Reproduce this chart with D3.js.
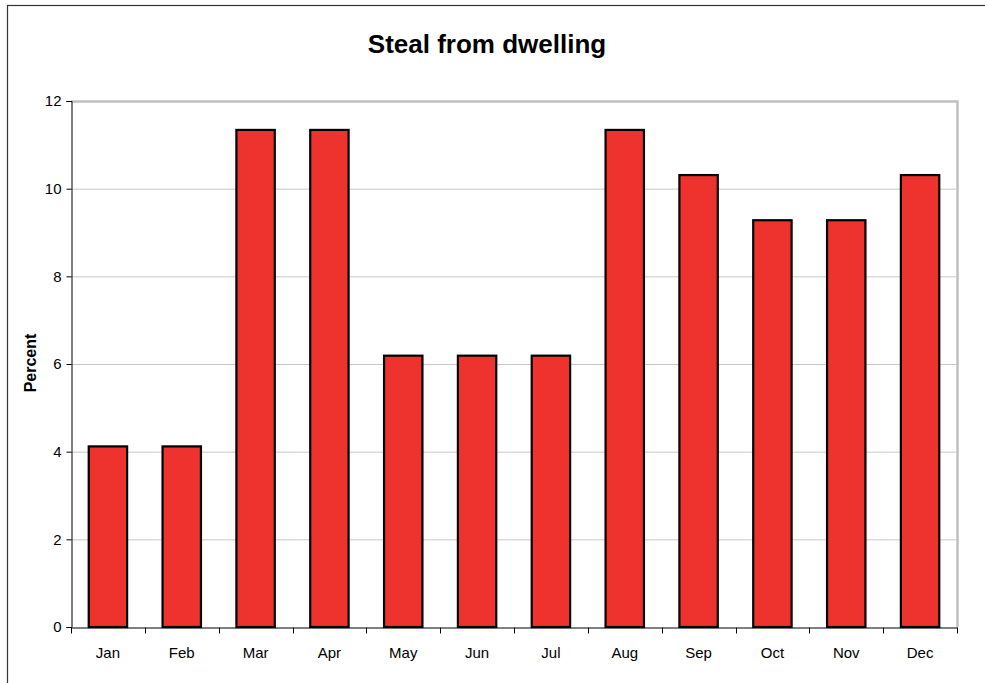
<!DOCTYPE html>
<html>
<head>
<meta charset="utf-8">
<script src="https://cdn.jsdelivr.net/npm/d3@7"></script>
<style>
  body { margin: 0; background: #fff; }
  text { font-family: "Liberation Sans", Arial, sans-serif; }
</style>
</head>
<body>
<div id="chart"></div>
<script>
// data (percent of incidents per month)
var months = ["Jan", "Feb", "Mar", "Apr", "May", "Jun", "Jul", "Aug", "Sep", "Oct", "Nov", "Dec"];
var percent = [4.12, 4.12, 11.34, 11.34, 6.19, 6.19, 6.19, 11.34, 10.31, 9.28, 9.28, 10.31];
var yTicks = [0, 2, 4, 6, 8, 10, 12];

function init(){
  var W = 985, H = 683;
  var left = 71, right = 957, top = 101, bottom = 627;

  var svg = d3.select("#chart")
    .append("svg")
      .attr("width", W)
      .attr("height", H);

  // outer frame
  svg.append("rect")
    .attr("x", 7.5).attr("y", 5.5)
    .attr("width", W).attr("height", H)
    .style("fill", "none")
    .style("stroke", "#333")
    .style("stroke-width", 1.2);

  var data = months.map(function(m, i){ return {month: m, value: percent[i]}; });

  // scales
  var xSlots = d3.scaleBand().domain(months).range([left, right]);
  var x = d3.scaleBand().domain(months).range([left, right])
    .paddingInner(0.48).paddingOuter(0.24);
  var y = d3.scaleLinear().domain([0, 12]).range([bottom, top]);

  // gridlines
  svg.selectAll("grid")
    .data(yTicks.filter(function(d){ return d > 0 && d < 12; }))
    .enter()
    .append("line")
      .attr("x1", left).attr("x2", right)
      .attr("y1", function(d){ return y(d) + 0.5; })
      .attr("y2", function(d){ return y(d) + 0.5; })
      .style("stroke", "#c8c8c8")
      .style("stroke-width", 1);

  // top and right edges of the plot area
  svg.append("path")
    .attr("d", "M" + left + "," + (top + 0.5) + "H" + (right + 0.5) + "V" + bottom)
    .style("fill", "none")
    .style("stroke", "#c0c0c0")
    .style("stroke-width", 2.5);

  // bars
  svg.selectAll("bars")
    .data(data)
    .enter()
    .append("rect")
      .attr("x", function(d){ return x(d.month); })
      .attr("y", function(d){ return y(d.value); })
      .attr("width", x.bandwidth())
      .attr("height", function(d){ return y(0) - y(d.value); })
      .style("fill", "#ee322e")
      .style("stroke", "#000")
      .style("stroke-width", 2.2);

  // y axis
  var yAxis = svg.append("g")
    .attr("transform", "translate(" + (left + 0.5) + ",0)")
    .call(d3.axisLeft(y).tickValues(yTicks).tickSize(5).tickPadding(5));
  yAxis.select(".domain").style("stroke", "#000");
  yAxis.selectAll("text")
    .style("font-size", "15px")
    .style("font-family", "'Liberation Sans', Arial, sans-serif")
    .style("fill", "#000");

  // x axis: labels centred in slots, ticks at slot boundaries
  var xAxis = svg.append("g")
    .attr("transform", "translate(0," + (bottom + 0.5) + ")")
    .call(d3.axisBottom(xSlots).tickSize(0).tickPadding(20));
  xAxis.select(".domain").style("stroke", "#000");
  xAxis.selectAll("text")
    .style("font-size", "15px")
    .style("font-family", "'Liberation Sans', Arial, sans-serif")
    .style("fill", "#000");

  var bounds = months.map(function(m){ return xSlots(m); }).concat([right]);
  xAxis.selectAll("slotTicks")
    .data(bounds)
    .enter()
    .append("line")
      .attr("x1", function(d){ return Math.round(d) + 0.5; })
      .attr("x2", function(d){ return Math.round(d) + 0.5; })
      .attr("y1", 0).attr("y2", 6)
      .style("stroke", "#000");

  // title
  svg.append("text")
    .attr("x", 487)
    .attr("y", 53)
    .attr("text-anchor", "middle")
    .style("font-size", "26px")
    .style("font-weight", "bold")
    .text("Steal from dwelling");

  // y label
  svg.append("text")
    .attr("transform", "rotate(-90)")
    .attr("x", -363)
    .attr("y", 36)
    .attr("text-anchor", "middle")
    .style("font-size", "16px")
    .style("font-weight", "bold")
    .text("Percent");
}
window.onload = init;
</script>
</body>
</html>
